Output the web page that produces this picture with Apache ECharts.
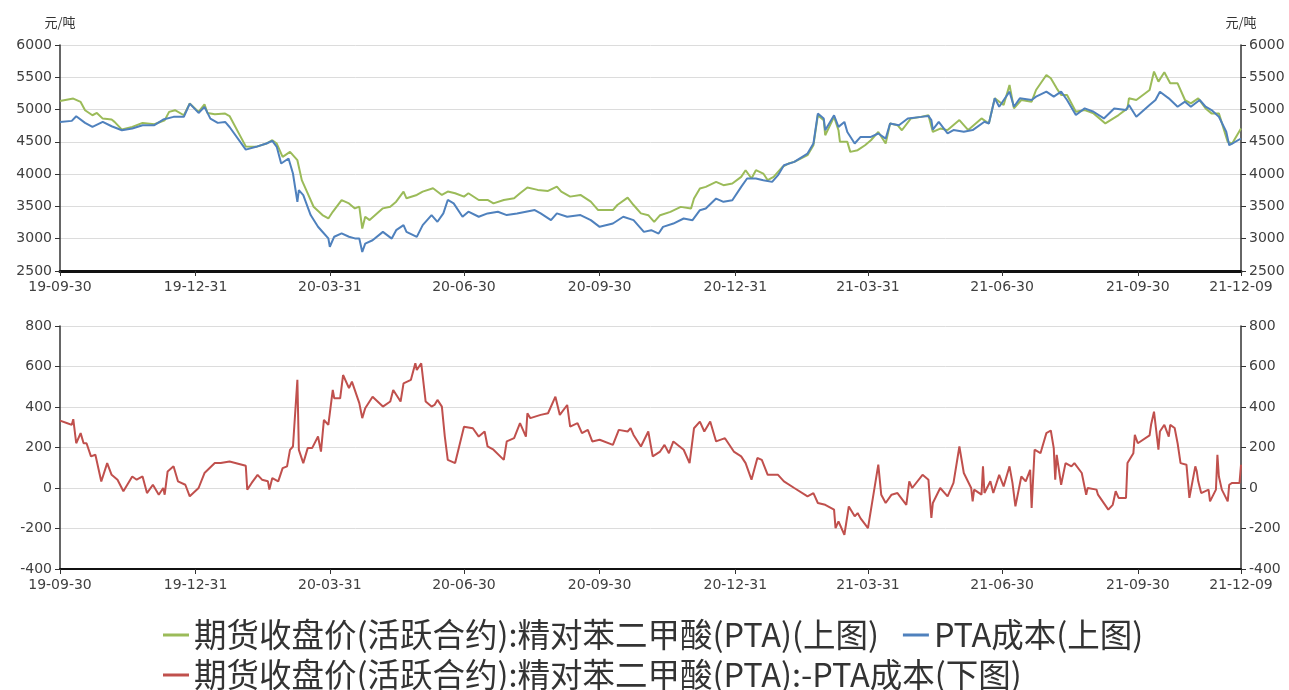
<!DOCTYPE html>
<html>
<head>
<meta charset="utf-8">
<script src="https://cdn.jsdelivr.net/npm/echarts@6/dist/echarts.min.js"></script>
<style>html,body{margin:0;padding:0;background:#fff}#c{width:1289px;height:690px}</style>
</head>
<body>
<div id="c"></div>
<script>
// ---- data ----
const seriesNames = [
  '期货收盘价(活跃合约):精对苯二甲酸(PTA)(上图)',
  'PTA成本(上图)',
  '期货收盘价(活跃合约):精对苯二甲酸(PTA):-PTA成本(下图)'
];
const xTickDates = ['2019-09-30','2019-12-31','2020-03-31','2020-06-30','2020-09-30','2020-12-31','2021-03-31','2021-06-30','2021-09-30','2021-12-09'];
const unitLabel = '元/吨';

const ptaFutures = [
['2019-09-30',5134],['2019-10-09',5170],['2019-10-14',5118],['2019-10-17',4990],['2019-10-22',4912],['2019-10-25',4948],['2019-10-29',4860],['2019-11-04',4845],['2019-11-06',4809],['2019-11-11',4690],['2019-11-18',4732],['2019-11-25',4794],['2019-12-03',4773],['2019-12-10',4835],['2019-12-13',4964],['2019-12-17',4990],['2019-12-23',4912],['2019-12-27',5093],['2020-01-02',4964],['2020-01-06',5082],['2020-01-08',4948],['2020-01-13',4928],['2020-01-20',4938],['2020-01-23',4900],['2020-02-03',4430],['2020-02-10',4423],['2020-02-17',4474],['2020-02-21',4526],['2020-02-24',4474],['2020-02-28',4268],['2020-03-04',4345],['2020-03-09',4216],['2020-03-12',3907],['2020-03-16',3701],['2020-03-20',3495],['2020-03-26',3366],['2020-03-30',3314],['2020-04-02',3417],['2020-04-08',3598],['2020-04-13',3546],['2020-04-17',3469],['2020-04-20',3496],['2020-04-22',3158],['2020-04-24',3340],['2020-04-27',3288],['2020-05-06',3470],['2020-05-11',3496],['2020-05-15',3574],['2020-05-20',3730],['2020-05-22',3626],['2020-05-29',3678],['2020-06-02',3730],['2020-06-09',3782],['2020-06-15',3678],['2020-06-19',3730],['2020-06-24',3704],['2020-06-30',3652],['2020-07-03',3704],['2020-07-10',3600],['2020-07-16',3600],['2020-07-20',3548],['2020-07-27',3600],['2020-08-03',3626],['2020-08-07',3704],['2020-08-12',3792],['2020-08-19',3756],['2020-08-26',3740],['2020-09-01',3808],['2020-09-04',3730],['2020-09-10',3652],['2020-09-17',3678],['2020-09-24',3574],['2020-09-29',3444],['2020-10-09',3444],['2020-10-12',3522],['2020-10-19',3636],['2020-10-23',3522],['2020-10-28',3392],['2020-11-02',3364],['2020-11-06',3261],['2020-11-10',3364],['2020-11-17',3416],['2020-11-24',3493],['2020-12-01',3467],['2020-12-03',3622],['2020-12-07',3777],['2020-12-11',3803],['2020-12-18',3880],['2020-12-23',3829],['2020-12-29',3855],['2021-01-04',3958],['2021-01-07',4061],['2021-01-11',3932],['2021-01-14',4061],['2021-01-19',4009],['2021-01-22',3906],['2021-01-26',3958],['2021-02-01',4113],['2021-02-05',4164],['2021-02-09',4190],['2021-02-18',4293],['2021-02-22',4448],['2021-02-25',4912],['2021-03-01',4835],['2021-03-02',4603],['2021-03-08',4887],['2021-03-11',4680],['2021-03-12',4500],['2021-03-17',4500],['2021-03-19',4345],['2021-03-24',4371],['2021-03-29',4448],['2021-04-02',4525],['2021-04-07',4654],['2021-04-12',4474],['2021-04-15',4783],['2021-04-20',4758],['2021-04-23',4680],['2021-04-29',4861],['2021-05-06',4887],['2021-05-11',4912],['2021-05-14',4654],['2021-05-19',4706],['2021-05-24',4682],['2021-06-01',4837],['2021-06-07',4682],['2021-06-16',4863],['2021-06-21',4785],['2021-06-25',5174],['2021-07-01',5070],['2021-07-05',5381],['2021-07-08',5018],['2021-07-13',5148],['2021-07-20',5122],['2021-07-23',5303],['2021-07-30',5536],['2021-08-02',5484],['2021-08-06',5329],['2021-08-09',5225],['2021-08-13',5225],['2021-08-19',4966],['2021-08-25',4992],['2021-08-31',4941],['2021-09-08',4785],['2021-09-17',4915],['2021-09-23',5018],['2021-09-24',5174],['2021-09-29',5148],['2021-10-08',5303],['2021-10-11',5588],['2021-10-14',5433],['2021-10-18',5578],['2021-10-22',5407],['2021-10-27',5407],['2021-11-01',5148],['2021-11-05',5096],['2021-11-10',5174],['2021-11-15',5018],['2021-11-19',4941],['2021-11-24',4941],['2021-11-30',4500],['2021-12-03',4474],['2021-12-09',4707]
];

const ptaCost = [
['2019-09-30',4809],['2019-10-08',4825],['2019-10-11',4897],['2019-10-17',4794],['2019-10-22',4732],['2019-10-29',4809],['2019-11-04',4742],['2019-11-11',4680],['2019-11-18',4706],['2019-11-25',4758],['2019-12-03',4758],['2019-12-09',4845],['2019-12-16',4887],['2019-12-23',4887],['2019-12-27',5093],['2020-01-02',4948],['2020-01-06',5041],['2020-01-10',4860],['2020-01-15',4794],['2020-01-20',4809],['2020-01-23',4730],['2020-02-03',4380],['2020-02-10',4423],['2020-02-17',4474],['2020-02-21',4515],['2020-02-24',4423],['2020-02-27',4165],['2020-03-03',4242],['2020-03-06',4010],['2020-03-09',3572],['2020-03-10',3753],['2020-03-13',3675],['2020-03-18',3366],['2020-03-23',3185],['2020-03-26',3108],['2020-03-30',3005],['2020-03-31',2876],['2020-04-03',3031],['2020-04-08',3082],['2020-04-13',3031],['2020-04-17',3005],['2020-04-20',3002],['2020-04-22',2794],['2020-04-24',2924],['2020-04-29',2976],['2020-05-06',3106],['2020-05-12',3002],['2020-05-15',3132],['2020-05-20',3210],['2020-05-22',3106],['2020-05-29',3028],['2020-06-02',3210],['2020-06-08',3366],['2020-06-12',3262],['2020-06-16',3392],['2020-06-19',3600],['2020-06-23',3548],['2020-06-29',3340],['2020-07-03',3418],['2020-07-10',3340],['2020-07-16',3392],['2020-07-23',3418],['2020-07-29',3366],['2020-08-05',3392],['2020-08-11',3418],['2020-08-17',3444],['2020-08-21',3392],['2020-08-28',3288],['2020-09-01',3392],['2020-09-08',3340],['2020-09-17',3366],['2020-09-24',3288],['2020-09-30',3184],['2020-10-09',3236],['2020-10-16',3340],['2020-10-23',3288],['2020-10-30',3106],['2020-11-04',3132],['2020-11-09',3080],['2020-11-12',3184],['2020-11-19',3235],['2020-11-26',3313],['2020-12-02',3287],['2020-12-07',3442],['2020-12-11',3467],['2020-12-18',3622],['2020-12-23',3571],['2020-12-29',3596],['2021-01-04',3803],['2021-01-08',3932],['2021-01-14',3932],['2021-01-19',3906],['2021-01-25',3880],['2021-01-29',3984],['2021-02-02',4138],['2021-02-09',4190],['2021-02-18',4319],['2021-02-22',4474],['2021-02-25',4938],['2021-03-01',4861],['2021-03-02',4680],['2021-03-08',4912],['2021-03-11',4732],['2021-03-15',4809],['2021-03-17',4654],['2021-03-22',4474],['2021-03-26',4577],['2021-04-02',4577],['2021-04-07',4629],['2021-04-12',4551],['2021-04-15',4783],['2021-04-21',4758],['2021-04-27',4861],['2021-05-06',4887],['2021-05-11',4902],['2021-05-13',4837],['2021-05-14',4690],['2021-05-18',4811],['2021-05-24',4630],['2021-05-28',4682],['2021-06-04',4656],['2021-06-10',4682],['2021-06-18',4811],['2021-06-21',4785],['2021-06-25',5174],['2021-06-28',5044],['2021-07-05',5277],['2021-07-08',5044],['2021-07-12',5174],['2021-07-20',5148],['2021-07-23',5200],['2021-07-30',5277],['2021-08-04',5200],['2021-08-09',5277],['2021-08-13',5148],['2021-08-19',4915],['2021-08-25',5018],['2021-08-31',4966],['2021-09-07',4863],['2021-09-14',5018],['2021-09-22',4992],['2021-09-24',5070],['2021-09-29',4889],['2021-10-08',5070],['2021-10-12',5148],['2021-10-15',5277],['2021-10-21',5174],['2021-10-27',5044],['2021-11-01',5122],['2021-11-05',5044],['2021-11-11',5148],['2021-11-15',5044],['2021-11-19',4992],['2021-11-24',4889],['2021-11-29',4656],['2021-12-01',4448],['2021-12-03',4474],['2021-12-09',4552]
];

const ptaSpread = [
['2019-09-30',333],['2019-10-05',320],['2019-10-08',312],['2019-10-09',340],['2019-10-11',221],['2019-10-14',271],['2019-10-16',221],['2019-10-18',221],['2019-10-21',156],['2019-10-24',164],['2019-10-28',32],['2019-11-01',123],['2019-11-04',65],['2019-11-08',41],['2019-11-12',-16],['2019-11-18',57],['2019-11-21',41],['2019-11-25',57],['2019-11-28',-25],['2019-12-02',16],['2019-12-06',-33],['2019-12-09',0],['2019-12-10',-33],['2019-12-12',82],['2019-12-16',107],['2019-12-19',33],['2019-12-24',16],['2019-12-27',-41],['2020-01-02',0],['2020-01-06',74],['2020-01-13',123],['2020-01-17',123],['2020-01-23',131],['2020-02-03',110],['2020-02-04',-8],['2020-02-07',25],['2020-02-11',65],['2020-02-14',41],['2020-02-18',33],['2020-02-19',-8],['2020-02-21',49],['2020-02-25',33],['2020-02-28',98],['2020-03-02',107],['2020-03-04',188],['2020-03-06',205],['2020-03-09',534],['2020-03-10',188],['2020-03-13',123],['2020-03-16',197],['2020-03-19',197],['2020-03-23',254],['2020-03-25',180],['2020-03-27',336],['2020-03-30',312],['2020-04-02',484],['2020-04-03',443],['2020-04-07',443],['2020-04-09',558],['2020-04-13',493],['2020-04-15',525],['2020-04-20',419],['2020-04-22',345],['2020-04-24',394],['2020-04-29',451],['2020-05-06',402],['2020-05-11',427],['2020-05-13',484],['2020-05-18',427],['2020-05-20',517],['2020-05-25',534],['2020-05-28',616],['2020-05-29',583],['2020-06-01',616],['2020-06-04',427],['2020-06-08',402],['2020-06-10',410],['2020-06-12',435],['2020-06-15',402],['2020-06-17',254],['2020-06-19',139],['2020-06-24',123],['2020-06-30',303],['2020-07-06',295],['2020-07-10',254],['2020-07-14',279],['2020-07-16',205],['2020-07-20',189],['2020-07-27',139],['2020-07-29',230],['2020-08-03',246],['2020-08-07',320],['2020-08-11',254],['2020-08-12',369],['2020-08-14',345],['2020-08-21',361],['2020-08-26',369],['2020-08-31',451],['2020-09-03',361],['2020-09-08',410],['2020-09-10',303],['2020-09-15',320],['2020-09-18',271],['2020-09-22',287],['2020-09-25',230],['2020-09-30',238],['2020-10-09',213],['2020-10-13',287],['2020-10-19',279],['2020-10-21',296],['2020-10-23',262],['2020-10-28',205],['2020-11-02',279],['2020-11-05',156],['2020-11-10',180],['2020-11-13',213],['2020-11-16',172],['2020-11-19',230],['2020-11-26',189],['2020-11-30',123],['2020-12-03',295],['2020-12-07',328],['2020-12-10',279],['2020-12-14',328],['2020-12-18',230],['2020-12-24',246],['2020-12-30',180],['2021-01-04',156],['2021-01-07',123],['2021-01-11',41],['2021-01-15',148],['2021-01-18',139],['2021-01-22',65],['2021-01-29',65],['2021-02-02',33],['2021-02-09',0],['2021-02-18',-41],['2021-02-22',-25],['2021-02-25',-74],['2021-03-02',-83],['2021-03-08',-107],['2021-03-09',-198],['2021-03-11',-165],['2021-03-15',-231],['2021-03-18',-91],['2021-03-22',-140],['2021-03-24',-124],['2021-03-26',-150],['2021-03-31',-198],['2021-04-07',115],['2021-04-09',-33],['2021-04-12',-74],['2021-04-16',-33],['2021-04-20',-25],['2021-04-26',-83],['2021-04-28',33],['2021-04-30',0],['2021-05-07',65],['2021-05-11',41],['2021-05-13',-148],['2021-05-14',-74],['2021-05-19',0],['2021-05-24',-41],['2021-05-28',25],['2021-06-01',205],['2021-06-04',74],['2021-06-09',0],['2021-06-10',-66],['2021-06-11',-8],['2021-06-16',-33],['2021-06-17',107],['2021-06-18',-25],['2021-06-22',33],['2021-06-24',-25],['2021-06-28',65],['2021-07-01',8],['2021-07-05',107],['2021-07-07',25],['2021-07-09',-91],['2021-07-13',57],['2021-07-16',33],['2021-07-19',90],['2021-07-20',-99],['2021-07-22',189],['2021-07-26',172],['2021-07-30',271],['2021-08-02',284],['2021-08-04',197],['2021-08-05',41],['2021-08-06',164],['2021-08-09',16],['2021-08-12',123],['2021-08-16',107],['2021-08-18',123],['2021-08-23',74],['2021-08-26',-33],['2021-08-27',0],['2021-09-02',-8],['2021-09-03',-33],['2021-09-10',-107],['2021-09-13',-83],['2021-09-15',-16],['2021-09-17',-49],['2021-09-22',-49],['2021-09-23',123],['2021-09-27',172],['2021-09-28',262],['2021-09-30',221],['2021-10-08',260],['2021-10-09',312],['2021-10-11',377],['2021-10-14',189],['2021-10-15',279],['2021-10-18',312],['2021-10-21',254],['2021-10-22',312],['2021-10-25',296],['2021-10-27',221],['2021-10-29',123],['2021-11-02',115],['2021-11-04',-49],['2021-11-08',107],['2021-11-09',82],['2021-11-10',33],['2021-11-12',-25],['2021-11-17',-8],['2021-11-18',-66],['2021-11-22',-8],['2021-11-23',164],['2021-11-24',57],['2021-11-26',-8],['2021-11-30',-66],['2021-12-01',16],['2021-12-03',25],['2021-12-08',25],['2021-12-09',115]
];

// ---- chart ----
function toTime(s){ const p = s.split('-').map(Number); return Date.UTC(p[0], p[1]-1, p[2]); }
const tickTimes = xTickDates.map(toTime);
function fmt(v){ const d = new Date(v); const p = n => String(n).padStart(2,'0');
  return p(d.getUTCFullYear()%100)+'-'+p(d.getUTCMonth()+1)+'-'+p(d.getUTCDate()); }
const asTime = arr => arr.map(r => [toTime(r[0]), r[1]]);

const labelFont = 'DejaVu Sans';
function xAxis(gridIndex, lw){
  return {
    type:'value', gridIndex, min: tickTimes[0], max: tickTimes[tickTimes.length-1],
    axisLine:{show:true, onZero:false, lineStyle:{color:'#111', width:lw}},
    axisTick:{show:true, customValues: tickTimes, length:5, lineStyle:{color:'#333'}},
    axisLabel:{customValues: tickTimes, formatter: fmt, color:'#404040', fontSize:14, fontFamily:labelFont, margin:9, hideOverlap:false, showMinLabel:true, showMaxLabel:true},
    splitLine:{show:false}
  };
}
function yAxis(gridIndex, pos, min, max, interval, name, grid){
  return {
    type:'value', gridIndex, position: pos, min, max, interval,
    name: name || '', nameLocation:'end', nameGap:16,
    nameTextStyle:{color:'#333', fontSize:13, fontFamily:'Noto Sans CJK SC', align:'center'},
    axisLine:{show:true, lineStyle:{color:'#333', width:1.5}},
    axisTick:{show:true, length:5, lineStyle:{color:'#333'}},
    axisLabel:{color:'#404040', fontSize:14, fontFamily:labelFont, margin:8, formatter: v => String(v)},
    splitLine:{show: grid, lineStyle:{color:'#dcdcdc', width:1}}
  };
}
const legendText = {fontSize:32.5, fontFamily:'Noto Sans CJK SC', color:'#333', lineHeight:36};

const chart = echarts.init(document.getElementById('c'), null, {renderer:'canvas'});
chart.setOption({
  animation:false,
  backgroundColor:'#fff',
  color:['#9bbb59','#4f81bd','#c0504d'],
  grid:[
    {left:60, right:48, top:45, height:226},
    {left:60, right:48, top:326, height:243}
  ],
  xAxis:[xAxis(0,3), xAxis(1,2)],
  yAxis:[
    yAxis(0,'left',2500,6000,500,unitLabel,true),
    yAxis(0,'right',2500,6000,500,unitLabel,false),
    yAxis(1,'left',-400,800,200,'',true),
    yAxis(1,'right',-400,800,200,'',false)
  ],
  legend:[
    {left:158, top:612, itemWidth:26, itemHeight:3, itemGap:24, icon:'rect', textStyle:legendText, itemStyle:{}, data: [seriesNames[0], seriesNames[1]]},
    {left:158, top:652, itemWidth:26, itemHeight:3, itemGap:24, icon:'rect', textStyle:legendText, data: [seriesNames[2]]}
  ],
  series:[
    {name:seriesNames[0], type:'line', xAxisIndex:0, yAxisIndex:0, data:asTime(ptaFutures), showSymbol:false, symbol:'none', lineStyle:{width:2}},
    {name:seriesNames[1], type:'line', xAxisIndex:0, yAxisIndex:0, data:asTime(ptaCost), showSymbol:false, symbol:'none', lineStyle:{width:2}},
    {name:seriesNames[2], type:'line', xAxisIndex:1, yAxisIndex:2, data:asTime(ptaSpread), showSymbol:false, symbol:'none', lineStyle:{width:2}}
  ]
});
</script>
</body>
</html>
